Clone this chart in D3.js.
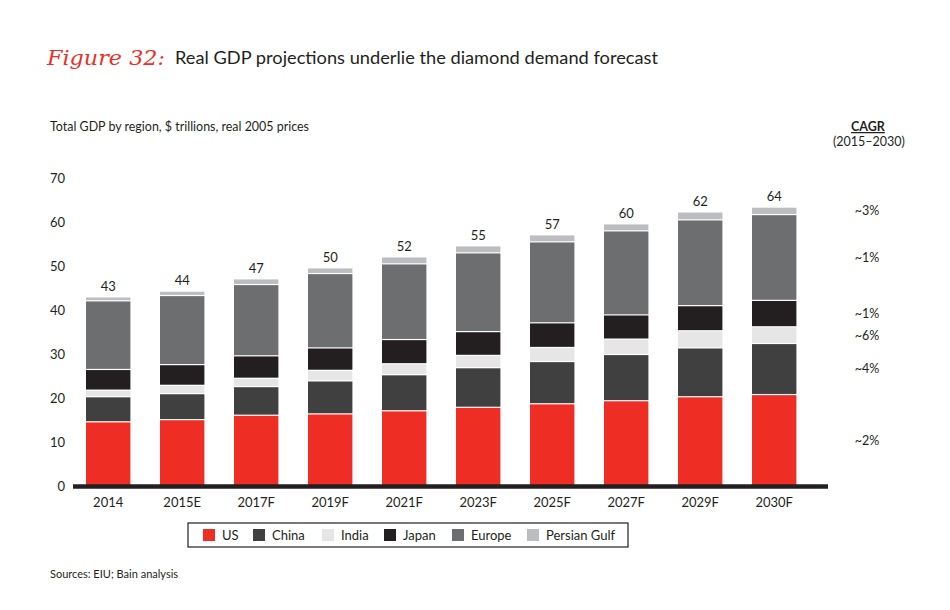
<!DOCTYPE html>
<html>
<head>
<meta charset="utf-8">
<script src="https://cdn.jsdelivr.net/npm/d3@7"></script>
<style>
  html, body { margin: 0; padding: 0; background: #fff; }
  svg text { font-family: Lato, "Noto Sans", sans-serif; fill: #231f20; }
</style>
</head>
<body>
<svg id="chart" width="950" height="610"></svg>
<script>
// ---- data ----
const categories = ["2014", "2015E", "2017F", "2019F", "2021F", "2023F", "2025F", "2027F", "2029F", "2030F"];
const seriesNames = ["US", "China", "India", "Japan", "Europe", "Persian Gulf"];
const us     = [14.7, 15.2, 16.2, 16.5, 17.2, 18.0, 18.8, 19.5, 20.4, 20.9];
const china  = [5.7, 5.9, 6.5, 7.5, 8.2, 9.0, 9.6, 10.5, 11.1, 11.6];
const india  = [1.5, 1.9, 1.9, 2.4, 2.5, 2.8, 3.2, 3.5, 3.9, 3.8];
const japan  = [4.7, 4.7, 5.1, 5.1, 5.5, 5.4, 5.6, 5.5, 5.7, 6.0];
const europe = [15.6, 15.7, 16.2, 16.9, 17.2, 17.9, 18.4, 19.1, 19.5, 19.5];
const gulf   = [0.9, 1.0, 1.3, 1.3, 1.6, 1.6, 1.6, 1.6, 1.8, 1.7];
const totalLabels = ["43", "44", "47", "50", "52", "55", "57", "60", "62", "64"];
const cagrLabels = ["~2%", "~4%", "~6%", "~1%", "~1%", "~3%"];
const yTicks = [0, 10, 20, 30, 40, 50, 60, 70];
const colors = ["#ee2e24", "#404040", "#e6e6e6", "#231f20", "#6d6e70", "#bcbdc0"];

const seriesValues = [us, china, india, japan, europe, gulf];
const table = categories.map((c, i) => {
  const row = { cat: c };
  seriesNames.forEach((s, j) => row[s] = seriesValues[j][i]);
  return row;
});

const svg = d3.select("#chart");

// ---- scales ----
const x = d3.scaleBand().domain(categories).range([71.2, 811.2]).paddingInner(0.4).paddingOuter(0.2);
const y = d3.scaleLinear().domain([0, 70]).range([486.5, 178.5]);

const stack = d3.stack().keys(seriesNames);
const stacked = stack(table);

// ---- title ----
svg.append("text").attr("x", 47).attr("y", 65)
  .style("font-family", "'DejaVu Serif', serif").style("font-style", "italic")
  .style("font-size", "21px").style("fill", "#ee2e24")
  .attr("textLength", 118).attr("lengthAdjust", "spacingAndGlyphs")
  .text("Figure 32:");
svg.append("text").attr("x", 175).attr("y", 64)
  .style("font-size", "17px")
  .attr("textLength", 483).attr("lengthAdjust", "spacingAndGlyphs")
  .text("Real GDP projections underlie the diamond demand forecast");

svg.append("text").attr("x", 50).attr("y", 131)
  .style("font-size", "13px")
  .attr("textLength", 259).attr("lengthAdjust", "spacingAndGlyphs")
  .text("Total GDP by region, $ trillions, real 2005 prices");

// ---- CAGR header ----
svg.append("text").attr("x", 868).attr("y", 131).attr("text-anchor", "middle")
  .style("font-size", "12.5px").style("font-weight", "bold")
  .style("text-decoration", "underline")
  .text("CAGR");
svg.append("text").attr("x", 869).attr("y", 146).attr("text-anchor", "middle")
  .style("font-size", "12.5px")
  .text("(2015\u20132030)");

// ---- y axis labels ----
svg.append("g").selectAll("text").data(yTicks).join("text")
  .attr("x", 65).attr("y", d => y(d)).attr("dy", "0.35em")
  .attr("text-anchor", "end").style("font-size", "13px")
  .text(d => d);

// ---- bars ----
const layer = svg.append("g").selectAll("g").data(stacked).join("g")
  .attr("fill", (d, i) => colors[i]);
layer.selectAll("rect").data(d => d).join("rect")
  .attr("x", d => x(d.data.cat))
  .attr("width", x.bandwidth())
  .attr("y", d => y(d[1]) + 0.6)
  .attr("height", d => Math.max(0, y(d[0]) - y(d[1]) - 1.2));

// ---- totals ----
const last = stacked[stacked.length - 1];
svg.append("g").selectAll("text").data(last).join("text")
  .attr("x", d => x(d.data.cat) + x.bandwidth() / 2)
  .attr("y", d => y(d[1]) - 6)
  .attr("text-anchor", "middle").style("font-size", "13px")
  .text((d, i) => totalLabels[i]);

// ---- baseline ----
svg.append("line").attr("x1", 73).attr("x2", 828)
  .attr("y1", y(0)).attr("y2", y(0))
  .attr("stroke", "#231f20").attr("stroke-width", 4.5);

// ---- x labels ----
svg.append("g").selectAll("text").data(categories).join("text")
  .attr("x", d => x(d) + x.bandwidth() / 2).attr("y", 507)
  .attr("text-anchor", "middle").style("font-size", "13px")
  .text(d => d);

// ---- CAGR values at midpoints of last bar ----
const lastIdx = categories.length - 1;
svg.append("g").selectAll("text").data(stacked).join("text")
  .attr("x", 867)
  .attr("y", d => y((d[lastIdx][0] + d[lastIdx][1]) / 2))
  .attr("dy", "0.35em").attr("text-anchor", "middle")
  .style("font-size", "12.5px")
  .text((d, i) => cagrLabels[i]);

// ---- legend ----
svg.append("rect").attr("x", 188).attr("y", 523).attr("width", 440).attr("height", 24)
  .attr("fill", "none").attr("stroke", "#231f20").attr("stroke-width", 1.2);
const legendX = [203, 253, 322, 384, 452, 527];
const lg = svg.append("g").selectAll("g").data(seriesNames).join("g")
  .attr("transform", (d, i) => `translate(${legendX[i]},529)`);
lg.append("rect").attr("width", 12).attr("height", 12).attr("fill", (d, i) => colors[i]);
lg.append("text").attr("x", 19).attr("y", 6).attr("dy", "0.35em")
  .style("font-size", "13px").text(d => d);

// ---- source ----
svg.append("text").attr("x", 50).attr("y", 578)
  .style("font-size", "11px").text("Sources: EIU; Bain analysis");
</script>
</body>
</html>
